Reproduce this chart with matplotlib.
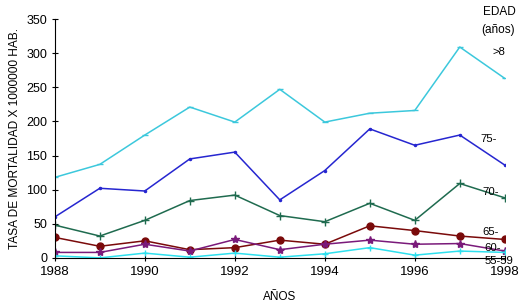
import matplotlib
matplotlib.use("Agg")
import matplotlib.pyplot as plt

plt.rcParams["font.family"] = ["Liberation Sans", "DejaVu Sans"]

# ---- DATA ----
years = [1988, 1989, 1990, 1991, 1992, 1993, 1994, 1995, 1996, 1997, 1998]
g80 = [118, 137, 180, 221, 199, 247, 199, 212, 216, 309, 263]
g75 = [60, 102, 98, 145, 155, 85, 128, 189, 165, 180, 136]
g70 = [48, 32, 55, 84, 92, 62, 53, 80, 55, 109, 88]
g65 = [30, 17, 25, 12, 15, 26, 20, 47, 40, 32, 27]
g60 = [8, 8, 20, 10, 27, 12, 20, 26, 20, 21, 10]
g55 = [3, 0, 7, 1, 7, 1, 6, 15, 4, 10, 8]
age_labels = [">8", "75-", "70-", "65-", "60-", "55-59"]

# line style, label position (x, y in data units)
series = [
    (g80, "#3cc8dc", "_", 5, 1997.72, 301),
    (g75, "#2626d0", ".", 3, 1997.45, 174),
    (g70, "#1f6b4f", "+", 6, 1997.5, 96),
    (g65, "#7a0a0a", "o", 5, 1997.5, 38),
    (g60, "#7a1a7a", "*", 6, 1997.55, 15),
    (g55, "#2ee0ee", "+", 5, 1997.55, -4),
]

fig = plt.figure(figsize=(5.22, 3.07), dpi=100)
ax = fig.add_axes([0.105, 0.16, 0.862, 0.778])

for (vals, col, mk, ms, lx, ly), lab in zip(series, age_labels):
    ax.plot(years, vals, color=col, marker=mk, markersize=ms, linewidth=1.1)
    ax.text(lx, ly, lab, fontsize=8.2, ha="left", va="center", clip_on=False)

ax.set_xlim(1988, 1998)
ax.set_ylim(0, 350)
ax.set_xticks([1988, 1990, 1992, 1994, 1996, 1998])
ax.set_yticks(range(0, 351, 50))
ax.tick_params(axis="x", labelsize=9.5, length=4, direction="inout", pad=4)
ax.tick_params(axis="y", labelsize=9, length=4, direction="inout")
ax.spines["top"].set_visible(False)
ax.spines["right"].set_visible(False)
ax.set_ylabel("TASA DE MORTALIDAD X 1000000 HAB.", fontsize=8.6, labelpad=4)
ax.set_xlabel("AÑOS", fontsize=8.5, labelpad=9)

fig.text(0.957, 0.961, "EDAD", fontsize=8.5, ha="center", va="center")
fig.text(0.955, 0.902, "(años)", fontsize=8.5, ha="center", va="center")

plt.savefig("out.png", dpi=100)
